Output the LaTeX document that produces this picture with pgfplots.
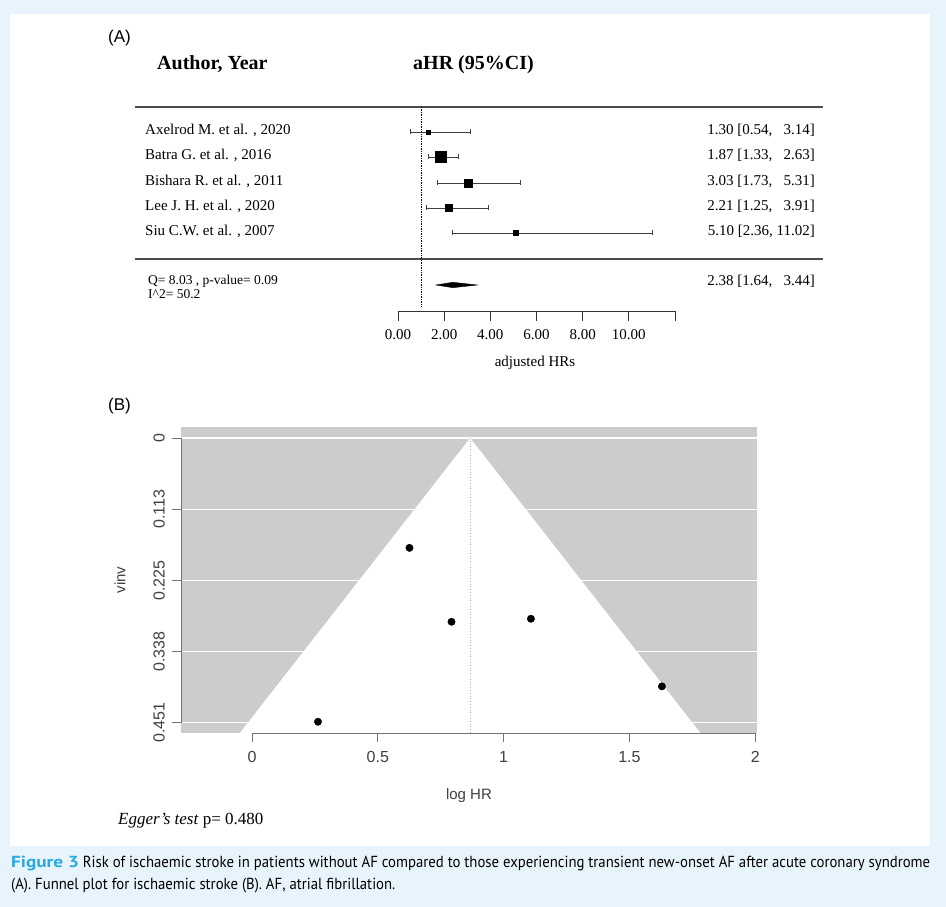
\documentclass[border=0pt]{standalone}
\usepackage{fontspec}
\setmainfont{Liberation Serif}
\setsansfont{Liberation Sans}
\newfontfamily\capfont{PT Sans}
\usepackage{graphicx}
\usepackage{pgfplots}
\pgfplotsset{compat=1.18}
\definecolor{bgblue}{HTML}{E8F4FB}
\definecolor{figblue}{HTML}{29A9E0}
\definecolor{funnelgray}{HTML}{CCCCCC}
\newcommand\rowfont{\fontsize{15}{16}\selectfont}
\begin{document}
\begin{tikzpicture}[x=1pt,y=1pt]
\useasboundingbox (0,0) rectangle (946,907);
\fill[bgblue] (0,0) rectangle (946,907);
\fill[white] (10,61) rectangle (930,893);

% ---------- (A) forest plot: data ----------
\begin{axis}[at={(135pt,585pt)}, anchor=south west, scale only axis,
  width=688pt, height=215pt, xmin=-11.394, xmax=18.412, ymin=-322, ymax=-107,
  hide axis, clip=false]
\addplot[black!70, line width=1.1pt] coordinates {(-11.394,-107) (18.412,-107)};
\addplot[black!70, line width=1.1pt] coordinates {(-11.394,-259) (18.412,-259)};
\addplot[black, densely dotted, line width=0.7pt] coordinates {(1,-107) (1,-306)};
% confidence intervals
\addplot[black!75, line width=0.9pt, mark=|, mark size=2.5pt] coordinates {(0.54,-132) (3.14,-132)};
\addplot[black!75, line width=0.9pt, mark=|, mark size=2.5pt] coordinates {(1.33,-157) (2.63,-157)};
\addplot[black!75, line width=0.9pt, mark=|, mark size=2.5pt] coordinates {(1.73,-183) (5.31,-183)};
\addplot[black!75, line width=0.9pt, mark=|, mark size=2.5pt] coordinates {(1.25,-208) (3.91,-208)};
\addplot[black!75, line width=0.9pt, mark=|, mark size=2.5pt] coordinates {(2.36,-233) (11.02,-233)};
% point estimates (box size ~ weight)
\addplot[only marks, mark=square*, black, mark size=2pt] coordinates {(1.30,-132)};
\addplot[only marks, mark=square*, black, mark size=5.5pt] coordinates {(1.87,-157)};
\addplot[only marks, mark=square*, black, mark size=4pt] coordinates {(3.03,-183)};
\addplot[only marks, mark=square*, black, mark size=3.5pt] coordinates {(2.21,-208)};
\addplot[only marks, mark=square*, black, mark size=2.5pt] coordinates {(5.10,-233)};
% pooled estimate
\addplot[fill=black, draw=black] coordinates {(1.64,-285) (2.38,-282.3) (3.44,-285) (2.38,-287.7)} -- cycle;
\end{axis}

% ---------- (A) forest plot: x axis ----------
\begin{axis}[at={(398pt,596pt)}, anchor=south west, scale only axis,
  width=277pt, height=6pt, xmin=0, xmax=12, ymin=0, ymax=1,
  axis x line*=bottom, hide y axis,
  x axis line style={-, line width=0.8pt, black!80},
  xtick={0,2,4,6,8,10,12}, xticklabels={0.00,2.00,4.00,6.00,8.00,10.00,{}},
  tick align=outside, major tick length=10pt,
  tick style={line width=0.8pt, black!80},
  xticklabel style={font=\fontsize{15}{16}\selectfont, yshift=-5pt}]
\addplot[draw=none] coordinates {(0,0)};
\end{axis}

% ---------- (B) funnel plot ----------
\begin{axis}[at={(181pt,174pt)}, anchor=south west, scale only axis,
  width=576pt, height=306pt, xmin=-0.282, xmax=2.007, ymin=-0.0174, ymax=0.4669,
  y dir=reverse, axis background/.style={fill=funnelgray},
  axis line style={draw=none}, tick pos=left, tick align=outside,
  major tick length=9pt, tick style={black!55, line width=0.8pt},
  xtick={0,0.5,1,1.5,2}, xticklabels={0,0.5,1,1.5,2},
  ytick={0,0.1126,0.2253,0.3379,0.4505}, yticklabels={0,0.113,0.225,0.338,0.451},
  xticklabel style={yshift=-6pt},
  yticklabel style={rotate=90, anchor=south, inner sep=7pt},
  ticklabel style={font=\sffamily\fontsize{16}{18}\selectfont, text=black!75},
  ymajorgrids, grid style={white, line width=1.2pt}, clip=false]
\addplot[fill=white, draw=none] coordinates {(-0.048,0.4669) (0.8671,0) (1.7822,0.4669)} -- cycle;
\addplot[black!30, dotted, line width=0.8pt] coordinates {(0.8671,0) (0.8671,0.4669)};
\addplot[only marks, mark=*, mark size=3.7pt, black] coordinates {
  (0.2624,0.4491) (0.6259,0.1739) (1.1086,0.2861) (0.7930,0.2909) (1.6292,0.3931)};
\addplot[black!55, line width=0.8pt] coordinates {(0,0.4669) (2,0.4669)};
\addplot[black!55, line width=0.8pt] coordinates {(-0.282,0) (-0.282,0.4505)};
\end{axis}

% ---------- texts (y measured from top) ----------
\begin{scope}[shift={(0,907)}, yscale=-1]
\node[anchor=mid west, inner sep=0pt, font=\sffamily\fontsize{17}{19}\selectfont] at (108,40) {(A)};
\node[anchor=mid west, inner sep=0pt, font=\bfseries\fontsize{20}{22}\selectfont] at (157,67) {Author, Year};
\node[anchor=mid west, inner sep=0pt, font=\bfseries\fontsize{20}{22}\selectfont] at (413,67) {aHR (95\%CI)};
\foreach \y/\t in {132/{Axelrod M. et al. , 2020}, 157/{Batra G. et al. , 2016}, 183/{Bishara R. et al. , 2011}, 208/{Lee J. H. et al. , 2020}, 233/{Siu C.W. et al. , 2007}}
  \node[anchor=mid west, inner sep=0pt, font=\rowfont] at (145,\y) {\t};
\foreach \y/\t in {132/{1.30 [0.54, \phantom{1}3.14]}, 157/{1.87 [1.33, \phantom{1}2.63]}, 183/{3.03 [1.73, \phantom{1}5.31]}, 208/{2.21 [1.25, \phantom{1}3.91]}, 233/{5.10 [2.36, 11.02]}, 283/{2.38 [1.64, \phantom{1}3.44]}}
  \node[anchor=mid east, inner sep=0pt, font=\rowfont] at (815,\y) {\t};
\node[anchor=mid west, inner sep=0pt, font=\fontsize{13.5}{14}\selectfont] at (148,282) {Q= 8.03 , p-value= 0.09};
\node[anchor=mid west, inner sep=0pt, font=\fontsize{13.5}{14}\selectfont] at (148,296) {I\^{}2= 50.2};
\node[font=\fontsize{15}{16}\selectfont] at (535,363) {adjusted HRs};
\node[anchor=mid west, inner sep=0pt, font=\sffamily\fontsize{17}{19}\selectfont] at (108,408) {(B)};
\node[rotate=90, font=\sffamily\fontsize{15}{17}\selectfont, text=black!75] at (120,580) {vinv};
\node[font=\sffamily\fontsize{15}{17}\selectfont, text=black!75] at (469,796) {log HR};
\node[anchor=mid west, inner sep=0pt, font=\fontsize{17}{19}\selectfont] at (118,822) {\textit{Egger's test} p= 0.480};
\node[anchor=north west, inner sep=0pt] at (11,852) {\resizebox{919pt}{\height}{\capfont\fontsize{16}{22}\selectfont\begin{tabular}{@{}l@{}}\textcolor{figblue}{\scalebox{1.3}[1]{\textbf{Figure 3}}} Risk of ischaemic stroke in patients without AF compared to those experiencing transient new-onset AF after acute coronary syndrome\\(A). Funnel plot for ischaemic stroke (B). AF, atrial fibrillation.\end{tabular}}};
\end{scope}
\end{tikzpicture}
\end{document}
